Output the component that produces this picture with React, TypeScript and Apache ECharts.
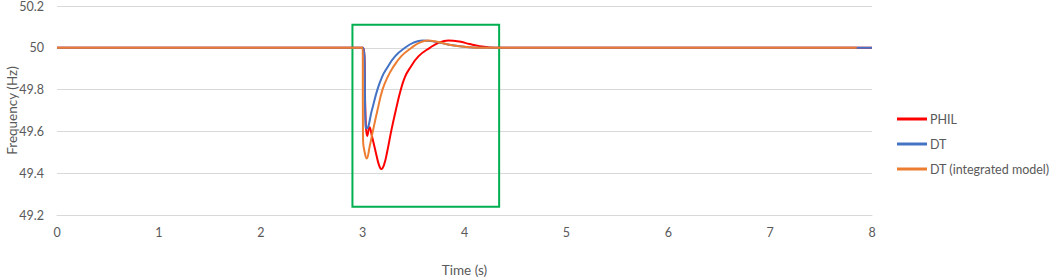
import React, { useEffect, useRef } from "react";
import * as echarts from "echarts";

const philTime = [0, 3.005, 3.03, 3.045, 3.068, 3.09, 3.134, 3.16, 3.183, 3.21, 3.24, 3.28, 3.325, 3.375, 3.415, 3.46, 3.55, 3.66, 3.75, 3.84, 3.95, 4.05, 4.15, 4.3, 8];
const philFreq = [50, 50, 49.65, 49.578, 49.62, 49.58, 49.49, 49.44, 49.42, 49.44, 49.5, 49.6, 49.7, 49.8, 49.86, 49.9, 49.96, 50.0, 50.025, 50.035, 50.03, 50.018, 50.008, 50, 50];

const dtTime = [0, 3.005, 3.03, 3.04, 3.09, 3.145, 3.19, 3.235, 3.32, 3.415, 3.5, 3.59, 3.7, 3.85, 4.0, 4.2, 8];
const dtFreq = [50, 50, 49.62, 49.615, 49.7, 49.8, 49.86, 49.9, 49.96, 50.0, 50.025, 50.035, 50.03, 50.015, 50.005, 50, 50];

const intTime = [0, 3.0, 3.004, 3.02, 3.04, 3.07, 3.1, 3.145, 3.195, 3.245, 3.29, 3.38, 3.48, 3.56, 3.64, 3.72, 3.85, 4.0, 4.2, 7.85];
const intFreq = [50, 50, 49.56, 49.5, 49.47, 49.53, 49.6, 49.7, 49.8, 49.86, 49.9, 49.96, 50.0, 50.025, 50.035, 50.03, 50.015, 50.005, 50, 50];

const boxTime = [2.9, 4.34];
const boxFreq = [49.24, 50.11];

const seriesNames = ["PHIL", "DT", "DT (integrated model)"];
const seriesColors = ["#FF0000", "#4472C4", "#ED7D31"];

const pairs = (t: number[], f: number[]) => t.map((x, i) => [x, f[i]]);

export default function App() {
  const ref = useRef<HTMLDivElement>(null);
  useEffect(() => {
    document.body.style.margin = "0";
    const chart = echarts.init(ref.current!, null, { renderer: "svg" });
    const font = "Lato, 'Open Sans', sans-serif";
    const lbl = { color: "#595959", fontSize: 12.5, fontFamily: font };
    const datasets = [pairs(philTime, philFreq), pairs(dtTime, dtFreq), pairs(intTime, intFreq)];
    chart.setOption({
      animation: false,
      grid: { left: 57, right: 180, top: 6, bottom: 65, outerBoundsMode: "none", containLabel: false },
      legend: {
        orient: "vertical",
        left: 897,
        top: 112,
        padding: 0,
        itemWidth: 30,
        itemHeight: 3,
        itemGap: 11,
        icon: "rect",
        textStyle: { ...lbl, fontSize: 12.5, lineHeight: 14, padding: [0, 0, 0, -2] },
        data: seriesNames,
      },
      xAxis: {
        type: "value",
        min: 0,
        max: 8,
        interval: 1,
        name: "Time (s)",
        nameLocation: "middle",
        nameGap: 48,
        nameMoveOverlap: false,
        nameTextStyle: { ...lbl, fontSize: 13.5 },
        axisLine: { show: true, lineStyle: { color: "#D9D9D9", width: 1 } },
        axisTick: { show: false },
        splitLine: { show: false },
        axisLabel: { ...lbl, margin: 11 },
      },
      yAxis: {
        type: "value",
        min: 49.2,
        max: 50.2,
        interval: 0.2,
        name: "Frequency (Hz)",
        nameLocation: "middle",
        nameGap: 38,
        nameMoveOverlap: false,
        nameTextStyle: { ...lbl, fontSize: 13.5 },
        axisLine: { show: false },
        axisTick: { show: false },
        splitLine: { lineStyle: { color: "#D9D9D9", width: 1 } },
        axisLabel: { ...lbl, margin: 13 },
      },
      series: seriesNames.map((name, i) => ({
        name,
        type: "line",
        data: datasets[i],
        showSymbol: false,
        symbol: "none",
        smooth: 0.45,
        lineStyle: { color: seriesColors[i], width: 2 },
        itemStyle: { color: seriesColors[i] },
        z: i === 1 ? 2 : 2 + i,
        markArea:
          i === 0
            ? {
                silent: true,
                itemStyle: { color: "rgba(0,0,0,0)", borderColor: "#00B050", borderWidth: 2 },
                data: [[{ coord: [boxTime[0], boxFreq[0]] }, { coord: [boxTime[1], boxFreq[1]] }]],
              }
            : undefined,
      })),
    });
    return () => chart.dispose();
  }, []);
  return <div ref={ref} style={{ width: 1052, height: 280 }} />;
}
